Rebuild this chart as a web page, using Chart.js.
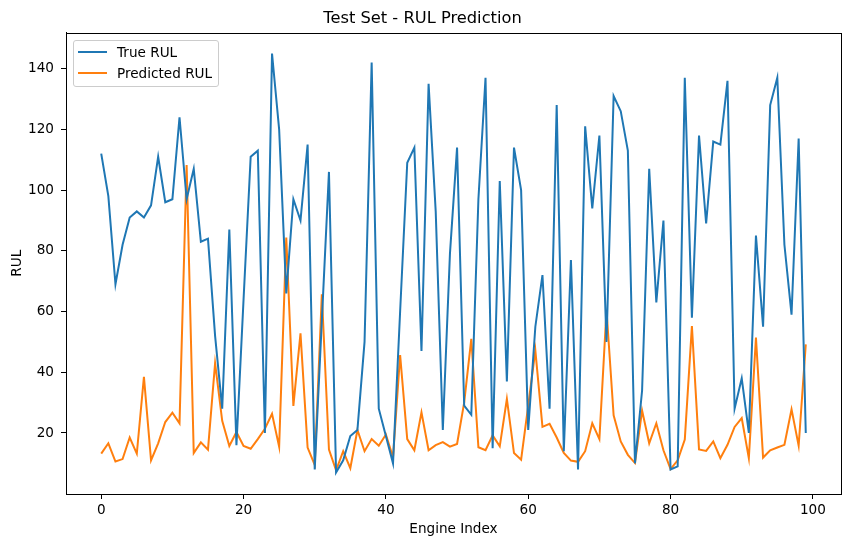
<!DOCTYPE html>
<html>
<head>
<meta charset="utf-8">
<script src="https://cdn.jsdelivr.net/npm/chart.js@4"></script>
<style>
  html, body { margin: 0; padding: 0; background: #fff; }
  #wrap { position: relative; width: 850px; height: 547px; }
  #legend {
    position: absolute;
    box-sizing: border-box;
    padding: 1px 6px 2px 4px;
    border: 1px solid #cccccc;
    border-radius: 3px;
    background: rgba(255,255,255,0.8);
    font-family: 'DejaVu Sans', sans-serif;
    font-size: 13.6px;
    color: #000;
  }
  #legend .row { display: flex; align-items: center; height: 21px; white-space: nowrap; }
  #legend .swatch { width: 29px; height: 2px; margin-right: 10px; }
</style>
</head>
<body>
<div id="wrap"><canvas id="c" width="850" height="547"></canvas><div id="legend"></div></div>
<script>
const engineIndex = Array.from({length: 100}, (_, i) => i);

const trueRUL = [
  112, 98, 69, 82, 91, 93, 91, 95, 111, 96,
  97, 124, 97, 107, 83, 84, 52, 28, 87, 16,
  64, 111, 113, 20, 145, 120, 66, 97, 90, 115,
  8, 57, 106, 7, 11, 19, 21, 50, 142, 28,
  19, 10, 60, 109, 114, 47, 135, 93, 21, 79,
  114, 29, 26, 97, 137, 15, 103, 37, 114, 100,
  21, 55, 72, 28, 128, 14, 77, 8, 121, 94,
  118, 50, 131, 126, 113, 10, 34, 107, 63, 90,
  8, 9, 137, 58, 118, 89, 116, 115, 136, 28,
  38, 20, 85, 55, 128, 137, 82, 59, 117, 20
];

const predictedRUL = [
  13.2, 16.6, 10.6, 11.4, 18.5, 13.2, 38.5, 11.0, 16.6, 23.6,
  26.7, 23.2, 108.3, 13.4, 16.9, 14.5, 43.0, 24.0, 15.7, 20.3,
  15.7, 14.8, 18.0, 21.4, 26.3, 15.5, 84.4, 28.9, 52.8, 15.2,
  9.5, 65.7, 14.5, 7.7, 14.0, 8.4, 21.0, 14.0, 18.0, 15.8,
  19.5, 12.0, 45.7, 18.0, 14.3, 26.8, 14.3, 16.0, 17.0, 15.5,
  16.4, 30.0, 51.0, 15.3, 14.3, 19.2, 15.6, 31.2, 13.4, 11.2,
  29.0, 47.2, 22.0, 23.0, 18.5, 13.4, 10.9, 10.5, 14.0, 23.2,
  18.0, 60.5, 25.8, 17.2, 12.8, 10.1, 27.4, 16.6, 23.2, 14.3,
  8.1, 11.0, 17.8, 55.2, 14.6, 14.1, 17.2, 11.7, 16.1, 22.0,
  24.9, 11.7, 51.4, 11.9, 14.3, 15.2, 16.1, 27.8, 15.8, 49.2
];

const xTicks = [0, 20, 40, 60, 80, 100];
const yTicks = [20, 40, 60, 80, 100, 120, 140];

const FONT = "'DejaVu Sans', sans-serif";
const LABEL_SIZE = 13.6;
const TITLE_SIZE = 16.3;

const framePlugin = {
  id: 'frame',
  afterDraw(chart) {
    const a = chart.chartArea;
    const ctx = chart.ctx;
    ctx.save();
    ctx.strokeStyle = '#000';
    ctx.lineWidth = 1;
    ctx.strokeRect(Math.round(a.left) + 0.5, Math.round(a.top) + 0.5,
                   Math.round(a.right - a.left), Math.round(a.bottom - a.top));
    ctx.restore();
  }
};

const htmlLegendPlugin = {
  id: 'htmlLegend',
  afterRender(chart) {
    const box = document.getElementById('legend');
    if (!box.dataset.built) {
      chart.data.datasets.forEach(ds => {
        const row = document.createElement('div');
        row.className = 'row';
        const sw = document.createElement('span');
        sw.className = 'swatch';
        sw.style.background = ds.borderColor;
        const tx = document.createElement('span');
        tx.textContent = ds.label;
        row.appendChild(sw);
        row.appendChild(tx);
        box.appendChild(row);
      });
      box.dataset.built = '1';
    }
    box.style.left = (chart.chartArea.left + 7) + 'px';
    box.style.top = (chart.chartArea.top + 7) + 'px';
  }
};

new Chart(document.getElementById('c'), {
  type: 'line',
  data: {
    labels: engineIndex,
    datasets: [
      {
        label: 'True RUL',
        data: trueRUL,
        borderColor: '#1f77b4',
        backgroundColor: '#1f77b4',
        borderWidth: 2,
        pointRadius: 0,
        tension: 0,
        fill: false
      },
      {
        label: 'Predicted RUL',
        data: predictedRUL,
        borderColor: '#ff7f0e',
        backgroundColor: '#ff7f0e',
        borderWidth: 2,
        pointRadius: 0,
        tension: 0,
        fill: false
      }
    ]
  },
  options: {
    responsive: false,
    devicePixelRatio: 1,
    animation: false,
    layout: { padding: { left: 4, right: 9, top: 0, bottom: 6 } },
    plugins: {
      title: {
        display: true,
        text: 'Test Set - RUL Prediction',
        color: '#000',
        font: { family: FONT, size: TITLE_SIZE, weight: 'normal' },
        padding: { top: 9, bottom: 4 }
      },
      legend: { display: false },
      tooltip: { enabled: false }
    },
    scales: {
      x: {
        type: 'linear',
        min: -4.95,
        max: 103.95,
        afterBuildTicks(scale) { scale.ticks = xTicks.map(v => ({ value: v })); },
        afterFit(scale) { scale.height = 47; },
        ticks: {
          color: '#000',
          font: { family: FONT, size: LABEL_SIZE },
          padding: 3,
          maxRotation: 0
        },
        grid: { display: true, drawOnChartArea: false, drawTicks: true, tickLength: 5, color: '#000' },
        border: { display: true, color: '#000', width: 1 },
        title: {
          display: true,
          text: 'Engine Index',
          color: '#000',
          font: { family: FONT, size: LABEL_SIZE },
          padding: { top: 3, bottom: 3 }
        }
      },
      y: {
        type: 'linear',
        min: -0.1,
        max: 151.9,
        afterBuildTicks(scale) { scale.ticks = yTicks.map(v => ({ value: v })); },
        afterFit(scale) { scale.width = 62; },
        ticks: {
          color: '#000',
          font: { family: FONT, size: LABEL_SIZE },
          padding: 7
        },
        grid: { display: true, drawOnChartArea: false, drawTicks: true, tickLength: 5, color: '#000' },
        border: { display: true, color: '#000', width: 1 },
        title: {
          display: true,
          text: 'RUL',
          color: '#000',
          font: { family: FONT, size: LABEL_SIZE },
          padding: { top: 5, bottom: 3 }
        }
      }
    }
  },
  plugins: [framePlugin, htmlLegendPlugin]
});
</script>
</body>
</html>
